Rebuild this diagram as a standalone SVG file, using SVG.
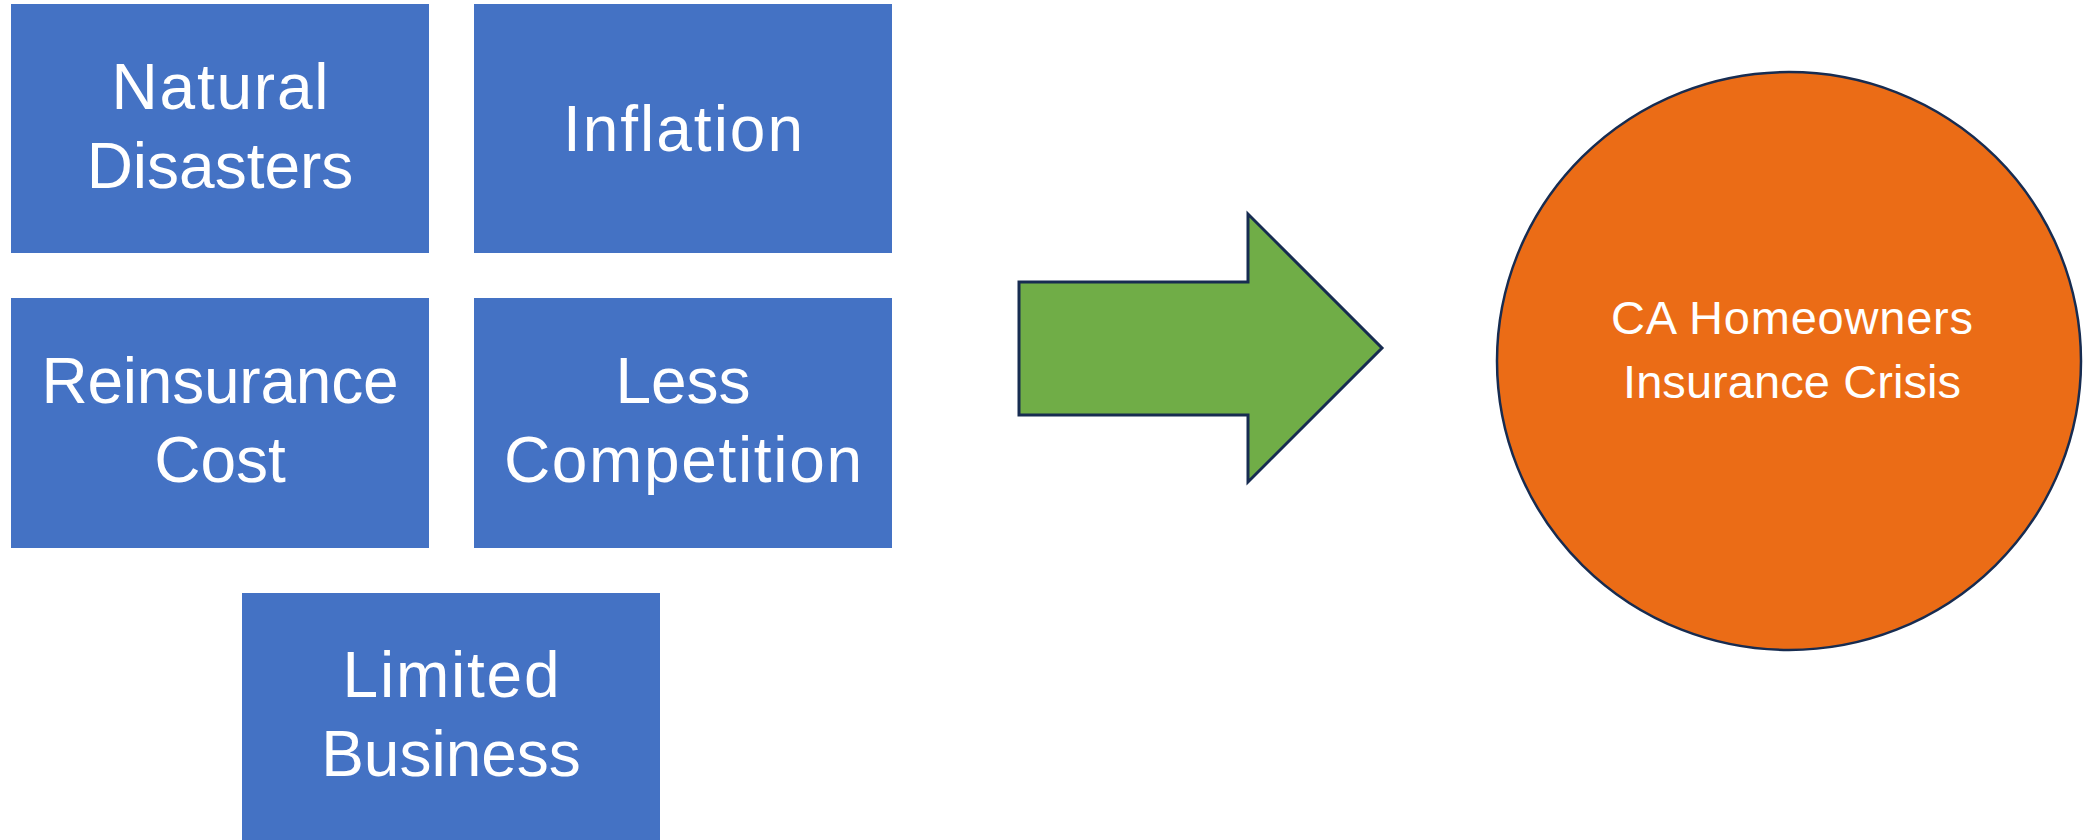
<svg xmlns="http://www.w3.org/2000/svg" width="2093" height="840" viewBox="0 0 2093 840">
<style>
.box{fill:#4472C4}
.bt{font-family:"Liberation Sans",Arial,sans-serif;font-size:64px;fill:#FFFFFF;text-anchor:middle}
.ct{font-family:"Liberation Sans",Arial,sans-serif;font-size:47px;fill:#FFFFFF;text-anchor:middle}
</style>
<rect width="2093" height="840" fill="#FFFFFF"/>
<g id="natural-disasters">
<rect class="box" x="11" y="4" width="418" height="249"/>
<text class="bt" x="220" y="109" textLength="217" lengthAdjust="spacing">Natural</text>
<text class="bt" x="220" y="188">Disasters</text>
</g>
<g id="inflation">
<rect class="box" x="474" y="4" width="418" height="249"/>
<text class="bt" x="683" y="151" textLength="240" lengthAdjust="spacing">Inflation</text>
</g>
<g id="reinsurance-cost">
<rect class="box" x="11" y="298" width="418" height="250"/>
<text class="bt" x="220" y="403" textLength="357" lengthAdjust="spacing">Reinsurance</text>
<text class="bt" x="220" y="482">Cost</text>
</g>
<g id="less-competition">
<rect class="box" x="474" y="298" width="418" height="250"/>
<text class="bt" x="683" y="403">Less</text>
<text class="bt" x="683" y="482" textLength="358" lengthAdjust="spacing">Competition</text>
</g>
<g id="limited-business">
<rect class="box" x="242" y="593" width="418" height="250"/>
<text class="bt" x="451" y="697" textLength="217" lengthAdjust="spacing">Limited</text>
<text class="bt" x="451" y="776">Business</text>
</g>
<g id="connectors">
<polygon points="1019,282 1248,282 1248,214 1382,348 1248,482 1248,415 1019,415" fill="#70AD47" stroke="#172C51" stroke-width="3" stroke-linejoin="miter"/>
</g>
<g id="ca-crisis">
<ellipse cx="1789" cy="361" rx="292" ry="289" fill="#EB6C16" stroke="#172C51" stroke-width="2.5"/>
<text class="ct" x="1792" y="334" textLength="362" lengthAdjust="spacing">CA Homeowners</text>
<text class="ct" x="1792" y="398" textLength="338" lengthAdjust="spacing">Insurance Crisis</text>
</g>
</svg>
